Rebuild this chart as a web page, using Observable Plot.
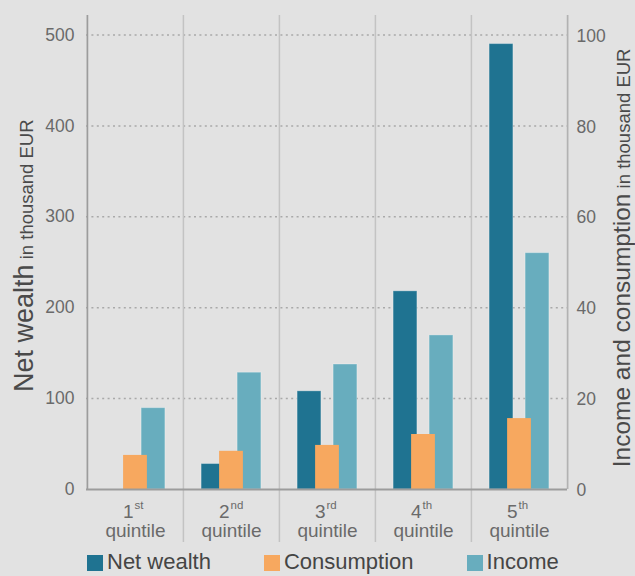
<!DOCTYPE html>
<html>
<head>
<meta charset="utf-8">
<script src="https://cdn.jsdelivr.net/npm/d3@7"></script>
<script src="https://cdn.jsdelivr.net/npm/@observablehq/plot@0.6"></script>
<style>
  html, body { margin: 0; padding: 0; background: #e2e2e2; overflow: hidden; }
  body { width: 635px; height: 576px; font-family: "Liberation Sans", Arial, sans-serif; }
  #legend { display: flex; align-items: center; gap: 53px; margin-left: 87px; margin-top: 1px; height: 26px; }
  #legend .item { display: flex; align-items: center; }
  #legend .swatch { width: 16px; height: 16px; margin-right: 4px; margin-top: 2px; }
  #legend .label { font-size: 22px; color: #454545; line-height: 22px; }
</style>
</head>
<body>
<div id="chart"></div>
<div id="legend"></div>
<script>
// Household quintiles
const quintiles = ["1st", "2nd", "3rd", "4th", "5th"];
const ordinals = ["1", "2", "3", "4", "5"];
const suffixes = ["st", "nd", "rd", "th", "th"];

// Net wealth, thousand EUR (left axis)
const netWealth = [0, 28, 108, 218, 490];
// Consumption and income, thousand EUR (right axis)
const consumption = [7.5, 8.4, 9.7, 12.1, 15.6];
const income = [17.9, 25.7, 27.5, 33.9, 52];

const leftTicks = [0, 100, 200, 300, 400, 500];
const rightTicks = [0, 20, 40, 60, 80, 100];

const seriesNames = ["Net wealth", "Consumption", "Income"];
const seriesColors = ["#1f7391", "#f7a85f", "#68adbe"];

// the right axis is drawn against the left scale: 100 on the right = 500 on the left
const ratio = leftTicks[leftTicks.length - 1] / rightTicks[rightTicks.length - 1];

const W = 635, H = 548;
const mL = 86, mR = 68, mT = 34.5, mB = 59;
const bw = (W - mL - mR) / quintiles.length;   // band width of one quintile
const barW = 24, step = 18;                     // bar width and spacing of the overlapping bars
const side = (bw - barW) / 2;

const rows = (values, k) => quintiles.map((q, i) => ({q, value: values[i], y: values[i] * k}));
const wealthRows = rows(netWealth, 1).filter(d => d.value > 0);
const consRows = rows(consumption, ratio);
const incRows = rows(income, ratio);

const pxPerUnit = (H - mT - mB) / 500;
const yTop = (H - mB - 15) / pxPerUnit;         // frame lines reach above the 500 line
const yBottom = -(542 - (H - mB)) / pxPerUnit;  // quintile dividers reach below the labels

const tickColor = "#6a6a6a";

const chart = Plot.plot({
  width: W,
  height: H,
  marginLeft: mL,
  marginRight: mR,
  marginTop: mT,
  marginBottom: mB,
  style: {background: "transparent", fontFamily: "'Liberation Sans', Arial, sans-serif", overflow: "visible"},
  x: {type: "band", domain: quintiles, padding: 0, axis: null},
  y: {domain: [0, 500], axis: null},
  marks: [
    // dotted horizontal grid
    Plot.ruleY(leftTicks.filter(d => d > 0), {y: d => d, stroke: "#a9a9a9", strokeWidth: 1.5, strokeDasharray: "2,3.4"}),
    // quintile dividers
    Plot.ruleX(quintiles.slice(1), {x: d => d, dx: -bw / 2, y1: yBottom, y2: yTop, stroke: "#c3c3c3", strokeWidth: 1.5}),
    // left and right axis lines
    Plot.ruleX([quintiles[0]], {x: d => d, dx: -bw / 2, y1: 0, y2: yTop, stroke: "#9c9c9c", strokeWidth: 1.7}),
    Plot.ruleX([quintiles[quintiles.length - 1]], {x: d => d, dx: bw / 2, y1: 0, y2: yTop, stroke: "#b2b2b2", strokeWidth: 1.7}),
    // bars: net wealth, income, then consumption on top
    Plot.barY(wealthRows, {x: "q", y: "y", fill: seriesColors[0], stroke: "#ffffff", strokeOpacity: 0.3, strokeWidth: 1,
      insetLeft: side - step, insetRight: side + step}),
    Plot.barY(incRows, {x: "q", y: "y", fill: seriesColors[2], stroke: "#ffffff", strokeOpacity: 0.3, strokeWidth: 1,
      insetLeft: side + step, insetRight: side - step}),
    Plot.barY(consRows, {x: "q", y: "y", fill: seriesColors[1], insetLeft: side, insetRight: side}),
    // baseline
    Plot.ruleY([0], {y: d => d, stroke: "#9c9c9c", strokeWidth: 2}),
    // left tick labels
    Plot.text(leftTicks, {y: d => d, text: d => String(d), frameAnchor: "left", dx: -12, textAnchor: "end",
      fontSize: 17.5, fill: tickColor}),
    // right tick labels
    Plot.text(rightTicks, {y: d => d * ratio, text: d => String(d), frameAnchor: "right", dx: 9, dy: 1, textAnchor: "start",
      fontSize: 17.5, fill: tickColor}),
    // quintile labels: ordinal number, superscript suffix, "quintile"
    Plot.text(quintiles, {x: d => d, y: 0, text: (d, i) => ordinals[i], dx: -2, dy: 28, lineAnchor: "bottom",
      textAnchor: "end", fontSize: 19, fill: tickColor}),
    Plot.text(quintiles, {x: d => d, y: 0, text: (d, i) => suffixes[i], dx: -1, dy: 19, lineAnchor: "bottom",
      textAnchor: "start", fontSize: 11.5, fill: tickColor}),
    Plot.text(quintiles, {x: d => d, y: 0, text: () => "quintile", dy: 47, lineAnchor: "bottom",
      textAnchor: "middle", fontSize: 19, fill: tickColor})
  ]
});

document.getElementById("chart").appendChild(chart);

// axis titles with a large lead word and a smaller unit
const svg = d3.select(chart);
function axisTitle(x, y, main, unit, mainSize, unitSize) {
  const t = svg.append("text")
    .attr("transform", `translate(${x},${y}) rotate(-90)`)
    .attr("text-anchor", "middle")
    .attr("fill", "#4a4a4a")
    .style("font-family", "'Liberation Sans', Arial, sans-serif");
  t.append("tspan").attr("font-size", mainSize).text(main);
  t.append("tspan").attr("font-size", unitSize).text(" " + unit);
}
axisTitle(33, 255.7, "Net wealth", "in thousand EUR", 27, 18.5);
axisTitle(629.5, 257.9, "Income and consumption", "in thousand EUR", 24.5, 18.5);

// legend
const legend = d3.select("#legend");
seriesNames.forEach((name, i) => {
  const item = legend.append("div").attr("class", "item");
  item.append("div").attr("class", "swatch").style("background", seriesColors[i]);
  item.append("div").attr("class", "label").text(name);
});
</script>
</body>
</html>
